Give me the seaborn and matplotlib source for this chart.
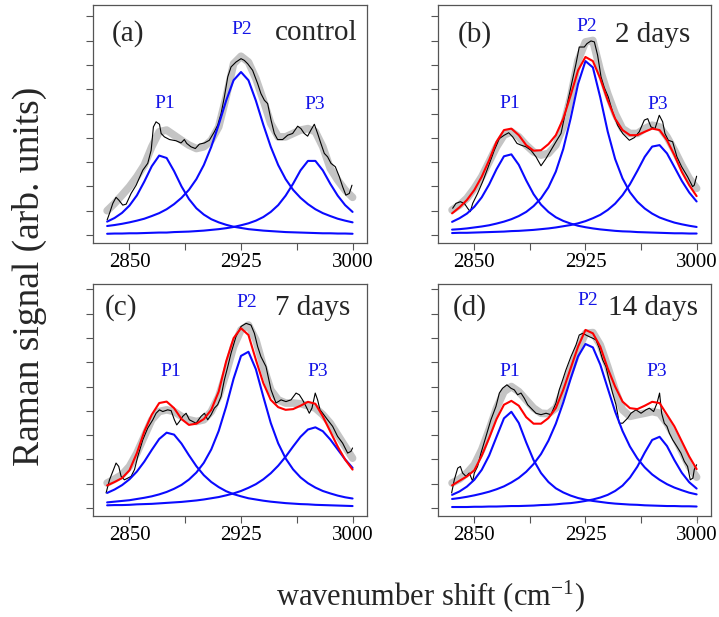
import matplotlib
matplotlib.use('Agg')
import matplotlib.pyplot as plt
import seaborn as sns

sns.set_theme(style='ticks')
plt.rcParams['font.family'] = ['Liberation Serif', 'DejaVu Serif']
plt.rcParams['mathtext.fontset'] = 'custom'
plt.rcParams['mathtext.rm'] = 'Liberation Serif'
plt.rcParams['mathtext.it'] = 'Liberation Serif:italic'

# common wavenumber grid for smoothed data, fit and components
wn = list(range(2835, 3001, 5))

# ---- (a) control
black_x_a = [2835.0, 2836.6, 2838.8, 2841.0, 2842.8, 2845.5, 2847.8, 2851.1, 2854.5, 2859.0, 2862.3, 2864.6, 2866.1, 2867.9, 2870.2, 2871.3, 2873.5, 2876.9, 2881.3, 2884.7, 2886.9, 2888.5, 2891.4, 2894.3, 2897.0, 2900.4, 2903.7, 2907.1, 2909.3, 2911.6, 2913.8, 2916.1, 2918.3, 2921.6, 2925.0, 2927.2, 2929.5, 2932.8, 2936.2, 2938.4, 2940.7, 2942.9, 2945.2, 2947.4, 2949.6, 2953.0, 2956.4, 2959.7, 2963.1, 2965.3, 2967.5, 2969.8, 2972.0, 2974.3, 2976.5, 2978.7, 2981.0, 2983.2, 2985.5, 2988.4, 2991.1, 2993.3, 2995.5, 2997.8, 2999.6]
black_y_a = [0.62, 0.89, 1.30, 1.55, 1.44, 1.23, 1.27, 1.71, 2.05, 2.67, 2.95, 3.49, 4.45, 4.66, 4.56, 4.18, 4.04, 3.93, 3.88, 3.79, 3.93, 3.77, 3.63, 3.56, 3.74, 3.79, 3.90, 4.25, 4.52, 5.00, 5.68, 6.51, 6.92, 7.12, 7.26, 7.19, 7.05, 6.78, 6.23, 5.82, 5.55, 5.41, 4.73, 4.18, 3.93, 3.93, 4.11, 4.18, 4.48, 4.38, 4.18, 4.07, 4.32, 4.56, 4.18, 3.77, 3.36, 3.22, 2.95, 2.81, 2.40, 1.99, 1.64, 1.71, 2.05]
gray_a = [1.00, 1.30, 1.64, 1.99, 2.40, 2.88, 3.63, 4.25, 4.32, 4.11, 3.90, 3.70, 3.56, 3.63, 3.90, 4.45, 5.68, 7.05, 7.36, 7.12, 6.44, 5.55, 4.59, 4.04, 4.04, 4.18, 4.32, 4.38, 4.25, 3.63, 2.74, 2.26, 1.85, 1.55]
p1_a = [0.55, 0.70, 0.91, 1.21, 1.63, 2.20, 2.83, 3.27, 3.17, 2.63, 2.00, 1.48, 1.10, 0.84, 0.65, 0.52, 0.42, 0.34, 0.29, 0.24, 0.21, 0.18, 0.16, 0.14, 0.12, 0.11, 0.10, 0.09, 0.08, 0.07, 0.07, 0.06, 0.06, 0.05]
p2_a = [0.37, 0.41, 0.46, 0.52, 0.59, 0.67, 0.78, 0.90, 1.06, 1.27, 1.53, 1.86, 2.30, 2.88, 3.63, 4.54, 5.53, 6.37, 6.71, 6.37, 5.53, 4.54, 3.63, 2.88, 2.30, 1.86, 1.53, 1.27, 1.06, 0.90, 0.78, 0.67, 0.59, 0.52]
p3_a = [0.05, 0.06, 0.06, 0.07, 0.07, 0.08, 0.09, 0.10, 0.10, 0.12, 0.13, 0.14, 0.16, 0.18, 0.21, 0.24, 0.28, 0.33, 0.40, 0.48, 0.59, 0.74, 0.95, 1.23, 1.62, 2.11, 2.66, 3.05, 3.05, 2.66, 2.11, 1.62, 1.23, 0.95]

# ---- (b) 2 days
black_x_b = [2835.4, 2837.6, 2840.6, 2843.3, 2845.5, 2847.3, 2848.9, 2852.2, 2855.6, 2859.0, 2863.5, 2866.9, 2870.2, 2873.2, 2875.9, 2878.8, 2881.5, 2884.9, 2888.2, 2891.6, 2895.0, 2898.4, 2901.7, 2905.1, 2908.5, 2911.8, 2915.2, 2918.6, 2920.8, 2924.2, 2926.0, 2928.7, 2931.0, 2933.2, 2935.5, 2937.7, 2940.4, 2943.3, 2946.7, 2950.1, 2954.6, 2958.0, 2961.3, 2964.7, 2967.0, 2969.2, 2971.9, 2974.8, 2977.1, 2978.6, 2980.9, 2983.8, 2986.7, 2989.9, 2993.9, 2997.3, 2998.4, 3000.0]
black_y_b = [1.10, 1.30, 1.37, 1.30, 1.10, 0.96, 1.30, 1.71, 2.19, 2.74, 3.49, 3.97, 4.11, 4.21, 4.04, 3.77, 3.70, 3.63, 3.49, 3.22, 2.85, 3.15, 3.49, 3.84, 4.18, 5.14, 6.10, 7.05, 7.74, 7.74, 7.88, 7.99, 7.95, 7.40, 6.51, 6.07, 5.68, 5.07, 4.52, 4.18, 3.90, 4.01, 4.25, 4.73, 4.79, 4.45, 4.38, 4.93, 4.66, 4.18, 3.90, 3.84, 3.22, 2.81, 2.40, 1.99, 2.05, 2.42]
gray_b = [1.03, 1.23, 1.51, 1.92, 2.40, 3.01, 3.63, 4.11, 4.25, 4.04, 3.70, 3.42, 3.29, 3.36, 3.70, 4.45, 5.68, 7.19, 7.95, 8.01, 6.78, 5.82, 5.00, 4.38, 4.18, 4.18, 4.38, 4.52, 4.45, 4.04, 3.49, 2.88, 2.33, 1.92]
red_b = [0.89, 1.14, 1.44, 1.85, 2.40, 3.08, 3.84, 4.32, 4.38, 4.11, 3.70, 3.47, 3.49, 3.74, 4.11, 4.79, 5.75, 6.78, 7.33, 7.16, 6.44, 5.55, 4.79, 4.32, 4.11, 4.11, 4.25, 4.38, 4.32, 3.90, 3.29, 2.60, 2.05, 1.60]
p1_b = [0.54, 0.69, 0.88, 1.16, 1.55, 2.08, 2.71, 3.24, 3.32, 2.89, 2.25, 1.68, 1.25, 0.95, 0.73, 0.58, 0.47, 0.38, 0.32, 0.27, 0.23, 0.20, 0.17, 0.15, 0.14, 0.12, 0.11, 0.10, 0.09, 0.08, 0.07, 0.07, 0.06, 0.06]
p2_b = [0.22, 0.24, 0.27, 0.31, 0.35, 0.40, 0.47, 0.55, 0.65, 0.78, 0.95, 1.19, 1.51, 1.96, 2.61, 3.54, 4.80, 6.22, 7.16, 6.90, 5.66, 4.26, 3.13, 2.33, 1.76, 1.37, 1.09, 0.88, 0.72, 0.61, 0.51, 0.44, 0.38, 0.33]
p3_b = [0.08, 0.09, 0.09, 0.10, 0.11, 0.12, 0.13, 0.14, 0.16, 0.17, 0.19, 0.21, 0.24, 0.27, 0.31, 0.36, 0.41, 0.48, 0.57, 0.69, 0.83, 1.03, 1.29, 1.64, 2.09, 2.64, 3.22, 3.64, 3.70, 3.36, 2.80, 2.23, 1.75, 1.38]

# ---- (c) 7 days
black_x_c = [2834.3, 2836.6, 2839.3, 2841.0, 2842.8, 2844.4, 2846.6, 2848.9, 2851.1, 2853.4, 2855.6, 2859.0, 2862.3, 2865.7, 2867.9, 2870.2, 2872.4, 2875.7, 2878.0, 2880.2, 2881.8, 2883.6, 2885.8, 2888.1, 2890.3, 2892.5, 2894.8, 2898.1, 2900.4, 2902.6, 2904.9, 2907.1, 2909.3, 2911.6, 2913.8, 2916.1, 2918.3, 2921.6, 2925.0, 2928.4, 2931.7, 2934.0, 2936.2, 2938.4, 2941.8, 2945.2, 2948.5, 2951.9, 2955.2, 2958.6, 2962.0, 2964.2, 2966.4, 2968.7, 2970.9, 2972.7, 2974.9, 2976.5, 2978.1, 2979.9, 2983.2, 2986.6, 2989.9, 2993.3, 2996.7, 2998.9, 3000.0]
black_y_c = [0.62, 1.16, 1.58, 1.85, 1.71, 1.30, 1.16, 1.23, 1.30, 1.58, 2.12, 2.81, 3.29, 3.63, 3.90, 4.04, 3.97, 4.04, 4.01, 3.63, 3.42, 3.56, 3.77, 3.90, 3.63, 3.56, 3.49, 3.77, 3.90, 3.63, 3.84, 4.11, 4.25, 4.59, 5.27, 5.82, 6.37, 7.05, 7.47, 7.60, 7.53, 7.19, 6.64, 6.23, 5.82, 4.86, 4.32, 4.45, 4.38, 4.45, 4.73, 4.66, 4.45, 4.18, 3.90, 4.11, 4.73, 4.45, 4.04, 3.90, 3.63, 3.36, 2.95, 2.67, 2.26, 2.33, 2.47]
gray_c = [1.03, 1.19, 1.37, 1.71, 2.26, 2.95, 3.63, 3.97, 4.04, 3.97, 3.77, 3.63, 3.56, 3.63, 3.97, 4.59, 5.55, 6.64, 7.33, 7.53, 6.92, 5.82, 4.86, 4.45, 4.32, 4.32, 4.29, 4.21, 4.11, 3.84, 3.49, 3.01, 2.53, 2.05]
red_c = [0.93, 1.07, 1.23, 1.55, 2.26, 3.15, 3.84, 4.32, 4.38, 4.11, 3.66, 3.42, 3.47, 3.66, 4.04, 4.79, 6.03, 6.99, 7.40, 7.12, 6.10, 5.14, 4.45, 4.15, 4.04, 4.07, 4.21, 4.37, 4.29, 3.77, 3.15, 2.53, 1.99, 1.58]
p1_c = [0.62, 0.76, 0.94, 1.18, 1.50, 1.91, 2.39, 2.84, 3.10, 3.02, 2.65, 2.17, 1.72, 1.35, 1.07, 0.86, 0.69, 0.57, 0.48, 0.40, 0.35, 0.30, 0.26, 0.23, 0.20, 0.18, 0.16, 0.15, 0.13, 0.12, 0.11, 0.10, 0.09, 0.08]
p2_c = [0.23, 0.26, 0.29, 0.32, 0.37, 0.42, 0.48, 0.56, 0.66, 0.79, 0.95, 1.17, 1.46, 1.86, 2.41, 3.17, 4.17, 5.32, 6.26, 6.43, 5.71, 4.58, 3.50, 2.66, 2.04, 1.59, 1.26, 1.02, 0.84, 0.70, 0.60, 0.51, 0.44, 0.39]
p3_c = [0.11, 0.12, 0.12, 0.13, 0.15, 0.16, 0.17, 0.19, 0.21, 0.23, 0.25, 0.28, 0.31, 0.35, 0.40, 0.45, 0.52, 0.60, 0.70, 0.83, 0.98, 1.18, 1.43, 1.74, 2.11, 2.53, 2.93, 3.23, 3.32, 3.16, 2.82, 2.41, 2.00, 1.65]

# ---- (d) 14 days
black_x_d = [2834.7, 2836.5, 2838.8, 2840.6, 2842.1, 2844.4, 2846.6, 2848.9, 2850.0, 2852.2, 2854.5, 2857.9, 2861.2, 2864.6, 2866.9, 2869.1, 2872.0, 2874.7, 2877.0, 2879.2, 2881.5, 2883.7, 2886.0, 2888.2, 2891.6, 2895.0, 2898.4, 2901.7, 2905.1, 2907.3, 2909.6, 2911.8, 2915.2, 2918.6, 2920.8, 2923.1, 2925.3, 2927.6, 2929.8, 2932.1, 2934.3, 2936.6, 2938.8, 2940.4, 2943.3, 2945.6, 2947.8, 2950.1, 2953.5, 2955.7, 2959.1, 2962.5, 2965.8, 2968.1, 2971.0, 2973.3, 2975.0, 2976.4, 2978.2, 2980.0, 2981.6, 2983.8, 2986.7, 2989.4, 2991.7, 2993.9, 2995.7, 2997.5, 2998.4, 3000.0]
black_y_d = [0.62, 1.16, 1.64, 1.71, 1.44, 1.30, 1.44, 1.10, 1.44, 1.71, 2.26, 2.95, 3.63, 4.18, 4.73, 4.93, 5.07, 4.93, 4.86, 4.66, 4.73, 4.52, 4.25, 4.11, 3.90, 3.84, 3.90, 3.84, 4.32, 4.86, 5.27, 5.68, 6.23, 6.71, 7.12, 7.19, 7.12, 7.05, 6.99, 6.92, 6.58, 6.10, 5.82, 5.41, 4.73, 4.25, 3.49, 3.49, 3.70, 3.90, 4.04, 3.90, 4.04, 4.11, 3.97, 4.32, 4.73, 3.90, 3.49, 3.36, 3.08, 2.81, 2.53, 2.26, 1.92, 1.71, 1.16, 1.23, 1.58, 1.78]
gray_d = [1.03, 1.19, 1.44, 1.78, 2.40, 3.22, 4.11, 4.79, 5.00, 4.79, 4.45, 4.11, 3.90, 3.88, 4.11, 4.86, 5.68, 6.51, 7.19, 7.22, 6.71, 5.82, 4.86, 4.04, 3.77, 3.84, 3.90, 3.97, 3.90, 3.49, 2.95, 2.33, 1.71, 1.27]
red_d = [0.93, 1.12, 1.30, 1.55, 2.15, 2.88, 3.66, 4.25, 4.41, 4.21, 3.74, 3.47, 3.47, 3.70, 4.11, 4.86, 5.75, 6.64, 7.33, 7.19, 6.64, 5.75, 5.00, 4.38, 4.11, 4.07, 4.21, 4.37, 4.32, 3.84, 3.36, 2.74, 2.12, 1.60]
p1_d = [0.54, 0.68, 0.88, 1.16, 1.57, 2.16, 2.93, 3.69, 3.96, 3.50, 2.70, 1.97, 1.44, 1.07, 0.81, 0.64, 0.51, 0.41, 0.34, 0.29, 0.25, 0.21, 0.18, 0.16, 0.14, 0.13, 0.11, 0.10, 0.09, 0.08, 0.08, 0.07, 0.07, 0.06]
p2_d = [0.37, 0.41, 0.46, 0.52, 0.59, 0.67, 0.77, 0.89, 1.05, 1.24, 1.49, 1.81, 2.22, 2.77, 3.47, 4.34, 5.32, 6.24, 6.75, 6.61, 5.90, 4.93, 3.97, 3.17, 2.53, 2.04, 1.67, 1.38, 1.16, 0.98, 0.84, 0.73, 0.63, 0.56]
p3_d = [0.04, 0.04, 0.04, 0.05, 0.05, 0.06, 0.06, 0.07, 0.08, 0.08, 0.09, 0.10, 0.12, 0.13, 0.15, 0.18, 0.20, 0.24, 0.29, 0.35, 0.43, 0.54, 0.70, 0.92, 1.25, 1.70, 2.28, 2.80, 2.93, 2.55, 1.97, 1.45, 1.06, 0.80]

tags = ['(a)', '(b)', '(c)', '(d)']
names = ['control', '2 days', '7 days', '14 days']

blacks = {'a': (black_x_a, black_y_a), 'b': (black_x_b, black_y_b),
          'c': (black_x_c, black_y_c), 'd': (black_x_d, black_y_d)}
grays = {'a': gray_a, 'b': gray_b, 'c': gray_c, 'd': gray_d}
reds = {'a': None, 'b': red_b, 'c': red_c, 'd': red_d}
blues = {'a': [p1_a, p2_a, p3_a], 'b': [p1_b, p2_b, p3_b],
         'c': [p1_c, p2_c, p3_c], 'd': [p1_d, p2_d, p3_d]}

W, H = 719, 617
fig = plt.figure(figsize=(7.19, 6.17), dpi=100)

# axes boxes in pixels (left, top, right, bottom)
boxes = {'a': (93, 5, 367, 243), 'b': (438, 5, 711, 243),
         'c': (93, 284, 367, 516), 'd': (438, 284, 711, 516)}
ytop = {'a': 9.47, 'b': 9.47, 'c': 9.22, 'd': 9.22}
# text spots in axes fraction: tag, name (right edge), P1, P2, P3
spots = {
    'a': ((0.068, 0.882), (0.964, 0.882), (0.263, 0.588), (0.544, 0.895), (0.810, 0.584)),
    'b': ((0.073, 0.874), (0.923, 0.874), (0.264, 0.588), (0.546, 0.908), (0.806, 0.584)),
    'c': ((0.044, 0.897), (0.938, 0.897), (0.285, 0.625), (0.562, 0.922), (0.821, 0.621)),
    'd': ((0.055, 0.897), (0.952, 0.897), (0.264, 0.625), (0.549, 0.927), (0.802, 0.621)),
}

spine_col = '#555555'
for i, k in enumerate('abcd'):
    l, t, r, b = boxes[k]
    ax = fig.add_axes([l / W, 1 - b / H, (r - l) / W, (b - t) / H])

    sns.lineplot(x=wn, y=grays[k], ax=ax, color='#c4c4c4', linewidth=5.5,
                 estimator=None, sort=False)
    bx, by = blacks[k]
    sns.lineplot(x=bx, y=by, ax=ax, color='black', linewidth=0.8,
                 estimator=None, sort=False)
    for comp in blues[k]:
        sns.lineplot(x=wn, y=comp, ax=ax, color='#0a0aff', linewidth=1.5,
                     estimator=None, sort=False)
    if reds[k] is not None:
        sns.lineplot(x=wn, y=reds[k], ax=ax, color='#ff0000', linewidth=1.5,
                     estimator=None, sort=False)

    ax.set_xlim(2825.5, 3009.7)
    ax.set_ylim(-0.33, ytop[k])
    ax.set_xticks([2850, 2925, 3000])
    ax.set_xticks([2887.5, 2962.5], minor=True)
    ax.set_yticks(range(10))
    ax.set_yticklabels([])
    ax.set_xlabel('')
    ax.set_ylabel('')
    ax.tick_params(which='both', direction='out', length=5, width=0.8,
                   color=spine_col, labelsize=15, pad=2, labelcolor='black')
    for s in ax.spines.values():
        s.set_color(spine_col)
        s.set_linewidth(0.9)

    sp = spots[k]
    ax.text(*sp[0], tags[i], transform=ax.transAxes, fontsize=21,
            ha='left', va='center')
    ax.text(*sp[1], names[i], transform=ax.transAxes, fontsize=21,
            ha='right', va='center')
    for j, p in enumerate(['P1', 'P2', 'P3']):
        ax.text(*sp[2 + j], p, transform=ax.transAxes, fontsize=14,
                ha='center', va='center', color='#1414e6')

fig.text(430 / W, 1 - 596 / H, r'wavenumber shift (cm$^{-1}$)',
         fontsize=22, ha='center', va='center')
fig.text(29 / W, 1 - 276 / H, 'Raman signal (arb. units)',
         fontsize=27, ha='center', va='center', rotation=90)

fig.savefig('out.png', dpi=100)
